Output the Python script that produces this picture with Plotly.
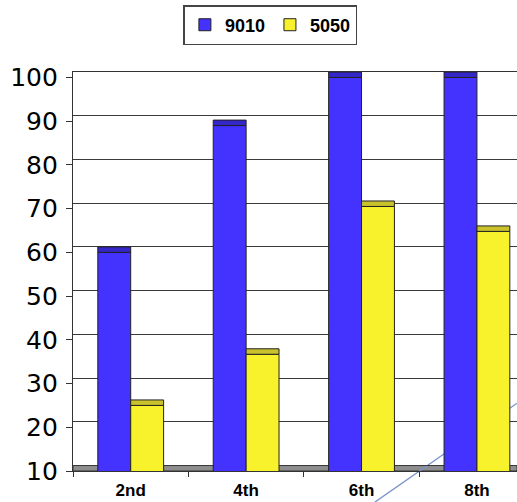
import plotly.graph_objects as go

# Grade levels and the two series
grades = ["2nd", "4th", "6th", "8th"]
series_9010 = [60, 89, 100, 100]
series_5050 = [25, 36.7, 70.5, 64.8]
y_ticks = [10, 20, 30, 40, 50, 60, 70, 80, 90, 100]

Y_MIN, Y_MAX = 10, 100
DEPTH = 1.25  # apparent depth of the 3-D columns, in value units

BLUE, BLUE_TOP = "#4433ff", "#3526c8"
YELLOW, YELLOW_TOP = "#f8f22c", "#c9c22c"
EDGE = "#222222"

fig = go.Figure()

# front faces of the columns
fig.add_trace(go.Bar(x=grades, y=series_9010, name="9010", offsetgroup="a",
                     marker=dict(color=BLUE, line=dict(color=EDGE, width=1))))
fig.add_trace(go.Bar(x=grades, y=series_5050, name="5050", offsetgroup="b",
                     marker=dict(color=YELLOW, line=dict(color=EDGE, width=1))))
# darker top faces sitting on each column
fig.add_trace(go.Bar(x=grades, y=[DEPTH] * len(grades), base=series_9010,
                     offsetgroup="a", showlegend=False, hoverinfo="skip",
                     marker=dict(color=BLUE_TOP, line=dict(color=EDGE, width=1))))
fig.add_trace(go.Bar(x=grades, y=[DEPTH] * len(grades), base=series_5050,
                     offsetgroup="b", showlegend=False, hoverinfo="skip",
                     marker=dict(color=YELLOW_TOP, line=dict(color=EDGE, width=1))))
# back-wall axis carrying the gridlines
fig.add_trace(go.Scatter(x=[grades[0]], y=[None], yaxis="y2", showlegend=False,
                         hoverinfo="skip", mode="markers"))

# grey floor under the columns
fig.add_shape(type="rect", xref="paper", yref="y", x0=0, x1=1,
              y0=Y_MIN, y1=Y_MIN + DEPTH, layer="below",
              fillcolor="#8e8e8e", line=dict(color="#333333", width=1))
# stray connector line behind the columns
fig.add_shape(type="line", xref="paper", yref="paper",
              x0=0.68, y0=-0.078, x1=1.0, y1=0.17, layer="below",
              line=dict(color="#7d95cc", width=1.3))

fig.update_layout(
    width=517, height=502,
    margin=dict(l=73, r=0, t=72, b=31),
    paper_bgcolor="white", plot_bgcolor="white",
    barmode="group", bargap=0.43, bargroupgap=0,
    showlegend=True,
    legend=dict(orientation="h", x=0.523, xanchor="center", xref="container",
                y=0.99, yanchor="top", yref="container",
                bgcolor="white", bordercolor="#444444", borderwidth=1.5,
                font=dict(family="Liberation Sans", size=18, color="black",
                          weight="bold"),
                itemwidth=30, tracegroupgap=0),
    xaxis=dict(type="category", range=[-0.5, 3.347], tickson="boundaries",
               ticks="outside", ticklen=5, tickcolor="#333333",
               showline=True, linecolor="#333333", linewidth=1, mirror=True,
               showgrid=False, ticklabelstandoff=4,
               tickfont=dict(family="Liberation Sans", size=17, color="black",
                             weight="bold")),
    yaxis=dict(range=[Y_MIN, Y_MAX + DEPTH], tickvals=y_ticks,
               ticks="outside", ticklen=6, tickcolor="#333333",
               showline=True, linecolor="#333333", linewidth=1.2,
               showgrid=False, zeroline=False, ticklabelstandoff=3,
               tickfont=dict(family="DejaVu Sans", size=25, color="black")),
    yaxis2=dict(overlaying="y", range=[Y_MIN - DEPTH, Y_MAX], tickvals=y_ticks,
                showticklabels=False, ticks="", showline=False,
                showgrid=True, gridcolor="#3a3a3a", gridwidth=1.2,
                zeroline=False),
)

fig.write_html("out.html")
